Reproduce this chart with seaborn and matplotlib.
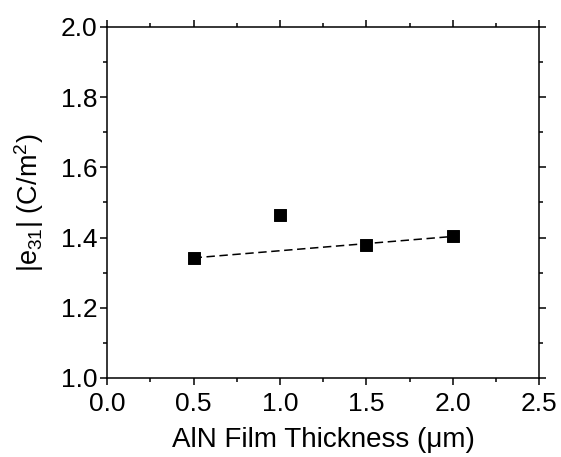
import pandas as pd
import numpy as np
import matplotlib
matplotlib.use('Agg')
import matplotlib.pyplot as plt
import seaborn as sns
from matplotlib.ticker import MultipleLocator, FormatStrFormatter

# Data
thickness = [0.5, 1.0, 1.5, 2.0]
e31 = [1.343, 1.465, 1.380, 1.405]
# points used for the dashed linear fit (1.0 um excluded)
fit_thickness = [0.5, 1.5, 2.0]
fit_e31 = [1.343, 1.380, 1.405]

df = pd.DataFrame({'t': thickness, 'e31': e31})
df_fit = pd.DataFrame({'t': fit_thickness, 'e31': fit_e31})

sns.set_style('ticks', {'text.color': 'black', 'axes.labelcolor': 'black',
                        'xtick.color': 'black', 'ytick.color': 'black',
                        'axes.edgecolor': 'black'})
plt.rcParams['font.family'] = ['Liberation Sans', 'DejaVu Sans']
plt.rcParams['mathtext.fontset'] = 'custom'
plt.rcParams['mathtext.rm'] = 'Liberation Sans'
plt.rcParams['mathtext.it'] = 'Liberation Sans'

fig = plt.figure(figsize=(5.61, 4.57), dpi=100)
ax = fig.add_axes([0.191, 0.173, 0.77, 0.768])

# dashed linear fit
sns.regplot(data=df_fit, x='t', y='e31', ax=ax, ci=None, scatter=False,
            truncate=True, line_kws={'color': 'black', 'linestyle': (0, (5.5, 3)), 'linewidth': 1.1})
# measured points
sns.scatterplot(data=df, x='t', y='e31', ax=ax, marker='s', s=70, color='black',
                edgecolor='black', zorder=3)

ax.set_xlim(0, 2.5)
ax.set_ylim(1.0, 2.0)
ax.xaxis.set_major_locator(MultipleLocator(0.5))
ax.xaxis.set_minor_locator(MultipleLocator(0.25))
ax.yaxis.set_major_locator(MultipleLocator(0.2))
ax.yaxis.set_minor_locator(MultipleLocator(0.1))
ax.xaxis.set_major_formatter(FormatStrFormatter('%.1f'))
ax.yaxis.set_major_formatter(FormatStrFormatter('%.1f'))

ax.tick_params(which='both', direction='out', top=True, right=True,
               labeltop=False, labelright=False, color='black', labelcolor='black', width=1.1)
ax.tick_params(which='major', length=5, labelsize=19)
ax.tick_params(axis='x', which='major', pad=5)
ax.tick_params(axis='y', which='major', pad=2)
ax.tick_params(which='minor', length=3)
for sp in ax.spines.values():
    sp.set_visible(True)
    sp.set_linewidth(1.1)
    sp.set_color('black')

ax.set_xlabel('AlN Film Thickness (\u03bcm)', fontsize=20, labelpad=8, color='black')
ax.set_ylabel('|e$_{31}$| (C/m$^2$)', fontsize=19.5, labelpad=11, color='black')

fig.savefig('out.png', dpi=100)
